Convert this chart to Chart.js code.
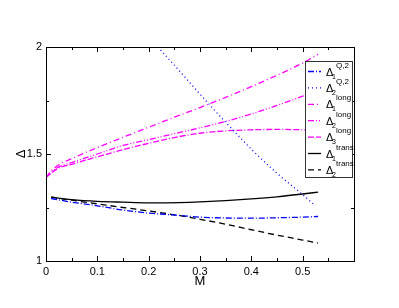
<!DOCTYPE html>
<html>
<head>
<meta charset="utf-8">
<script src="https://cdn.jsdelivr.net/npm/chart.js@4/dist/chart.umd.min.js"></script>
<style>
html,body{margin:0;padding:0;background:#fff;}
canvas{display:block;}
</style>
</head>
<body>
<canvas id="c" width="399" height="308" style="width:399px;height:308px"></canvas>
<script>
// ---- data ----
const mTrans = [0.01, 0.05, 0.1, 0.15, 0.2, 0.26, 0.3, 0.35, 0.4, 0.45, 0.5, 0.53];
const d1Q2   = [1.292, 1.275, 1.258, 1.238, 1.224, 1.213, 1.205, 1.201, 1.200, 1.202, 1.205, 1.208];
const d1Trans = [1.298, 1.287, 1.279, 1.275, 1.272, 1.273, 1.276, 1.282, 1.290, 1.300, 1.313, 1.322];
const d2Trans = [1.298, 1.284, 1.267, 1.250, 1.234, 1.212, 1.195, 1.172, 1.146, 1.121, 1.098, 1.084];

const mQ2b = [0.218, 0.25, 0.3, 0.35, 0.4, 0.45, 0.5, 0.525];
const d2Q2 = [2.0, 1.915, 1.78, 1.648, 1.523, 1.41, 1.31, 1.258];

const mLong = [0, 0.01, 0.025, 0.05, 0.1, 0.15, 0.2, 0.25, 0.3, 0.35, 0.4, 0.45, 0.5, 0.53];
const d1Long = [1.39, 1.42, 1.45, 1.478, 1.53, 1.578, 1.625, 1.672, 1.717, 1.765, 1.815, 1.868, 1.925, 1.966];
const d2Long = [1.39, 1.415, 1.44, 1.46, 1.50, 1.54, 1.567, 1.595, 1.622, 1.652, 1.687, 1.727, 1.77, 1.797];
const d3Long = [1.39, 1.41, 1.435, 1.452, 1.487, 1.52, 1.55, 1.577, 1.597, 1.608, 1.613, 1.615, 1.613, 1.61];

const xTicks = [0, 0.1, 0.2, 0.3, 0.4, 0.5];
const yTicks = [1, 1.5, 2];

const legendItems = [
  {sub:'1', sup:'Q,2', color:'#0000ff', dash:[6,2,1,2]},
  {sub:'2', sup:'Q,2', color:'#0000ff', dash:[1,3]},
  {sub:'1', sup:'long', color:'#ff00ff', dash:[6,3,1,3]},
  {sub:'2', sup:'long', color:'#ff00ff', dash:[6,2,1,2,1,2]},
  {sub:'3', sup:'long', color:'#ff00ff', dash:[6,2,6,2,1,2]},
  {sub:'1', sup:'trans', color:'#000000', dash:[]},
  {sub:'2', sup:'trans', color:'#000000', dash:[6,4]}
];

function pts(xs, ys){ return xs.map((x,i)=>({x:x, y:ys[i]})); }

const series = [
  {data:pts(mTrans,d1Q2), item:legendItems[0]},
  {data:pts(mQ2b,d2Q2), item:legendItems[1]},
  {data:pts(mLong,d1Long), item:legendItems[2]},
  {data:pts(mLong,d2Long), item:legendItems[3]},
  {data:pts(mLong,d3Long), item:legendItems[4]},
  {data:pts(mTrans,d1Trans), item:legendItems[5]},
  {data:pts(mTrans,d2Trans), item:legendItems[6]}
];

const FONT = 'Liberation Sans';

const framePlugin = {
  id:'frame',
  afterDatasetsDraw(chart){
    const ctx = chart.ctx, a = chart.chartArea;
    const xs = chart.scales.x, ys = chart.scales.y;
    ctx.save();
    ctx.strokeStyle = '#000';
    ctx.lineWidth = 1;
    ctx.setLineDash([]);
    // inward tick marks
    ctx.beginPath();
    for (let k = 0; k <= 12; k++) {
      const v = k * 0.05;
      const px = Math.round(xs.getPixelForValue(v)) + 0.5;
      const len = (k % 2 === 0) ? 5 : 3;
      ctx.moveTo(px, a.bottom); ctx.lineTo(px, a.bottom - len);
      ctx.moveTo(px, a.top); ctx.lineTo(px, a.top + len);
    }
    for (let k = 0; k <= 4; k++) {
      const v = 1 + k * 0.25;
      const py = Math.round(ys.getPixelForValue(v)) + 0.5;
      const len = (k % 2 === 0) ? 5 : 3;
      ctx.moveTo(a.left, py); ctx.lineTo(a.left + len, py);
      ctx.moveTo(a.right, py); ctx.lineTo(a.right - len, py);
    }
    ctx.stroke();
    ctx.strokeRect(Math.round(a.left)+0.5, Math.round(a.top)+0.5, Math.round(a.right-a.left), Math.round(a.bottom-a.top));

    // legend box
    const bx = 305.5, by = 61.5, bw = 47, bh = 116;
    ctx.fillStyle = '#fff';
    ctx.fillRect(bx, by, bw, bh);
    ctx.strokeStyle = '#333';
    ctx.strokeRect(bx, by, bw, bh);
    const rowY0 = 71.5, rowDy = 16.4;
    legendItems.forEach((it, i) => {
      const y = rowY0 + i * rowDy;
      ctx.strokeStyle = it.color;
      ctx.lineWidth = 1.3;
      ctx.setLineDash(it.dash);
      ctx.beginPath(); ctx.moveTo(308, y); ctx.lineTo(321, y); ctx.stroke();
      ctx.setLineDash([]);
      ctx.fillStyle = '#000';
      ctx.textAlign = 'left';
      ctx.textBaseline = 'alphabetic';
      ctx.font = '11px "' + FONT + '"';
      ctx.fillText('\u0394', 326, y + 4);
      ctx.font = '7px "' + FONT + '"';
      ctx.fillText(it.sub, 332, y + 7);
      ctx.font = '8px "' + FONT + '"';
      ctx.fillText(it.sup, 336, y - 4);
    });
    ctx.restore();
  }
};

new Chart(document.getElementById('c'), {
  type:'line',
  data:{
    datasets: series.map(s => ({
      data: s.data,
      borderColor: s.item.color,
      borderDash: s.item.dash,
      borderWidth: 1.3,
      pointRadius: 0,
      fill: false,
      cubicInterpolationMode: 'monotone'
    }))
  },
  options:{
    responsive:false,
    animation:false,
    devicePixelRatio:1,
    layout:{padding:{top:47, right:45, left:0, bottom:0}},
    plugins:{legend:{display:false}, tooltip:{enabled:false}},
    scales:{
      x:{
        type:'linear', min:0, max:0.6,
        afterFit(s){ s.height = 47; },
        afterBuildTicks(s){ s.ticks = xTicks.map(v => ({value:v})); },
        grid:{display:false, drawTicks:false},
        border:{display:false},
        ticks:{padding:4, color:'#000', font:{family:FONT, size:11}, maxRotation:0, autoSkip:false,
               callback:(v)=> String(Number(v.toFixed(1)))},
        title:{display:true, text:'M', color:'#000', font:{family:FONT, size:13}, padding:{top:0, bottom:19}}
      },
      y:{
        type:'linear', min:1, max:2,
        afterFit(s){ s.width = 46; },
        afterBuildTicks(s){ s.ticks = yTicks.map(v => ({value:v})); },
        grid:{display:false, drawTicks:false},
        border:{display:false},
        ticks:{padding:4, color:'#000', font:{family:FONT, size:11},
               callback:(v)=> String(Number(v.toFixed(2)))},
        title:{display:true, text:'\u0394', color:'#000', font:{family:FONT, size:13}, padding:{top:14, bottom:0}}
      }
    }
  },
  plugins:[framePlugin]
});
</script>
</body>
</html>
